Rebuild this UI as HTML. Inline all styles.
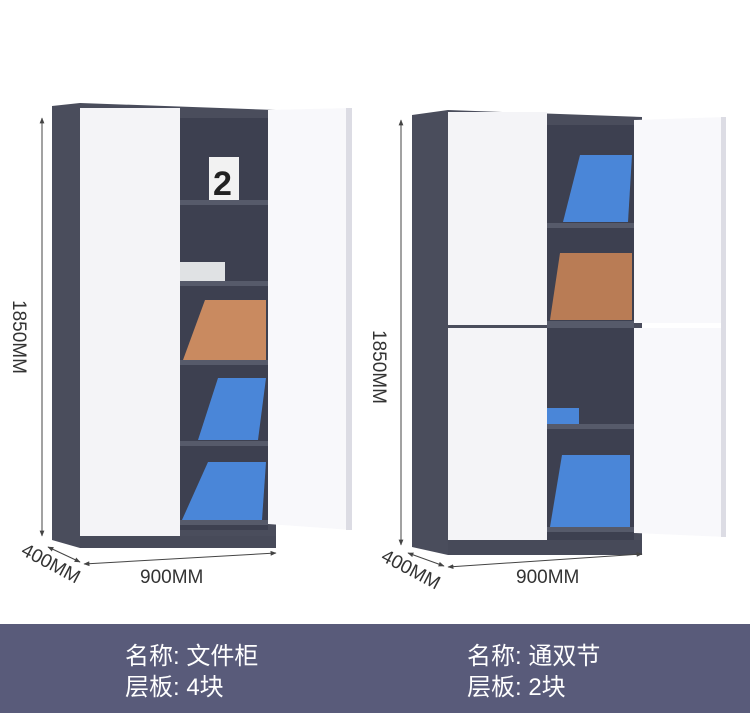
<!DOCTYPE html>
<html><head><meta charset="utf-8"><style>
body{margin:0;width:750px;height:713px;background:#fff;overflow:hidden;font-family:"Liberation Sans","Noto Sans CJK SC",sans-serif}
</style></head><body>
<svg width="750" height="713" viewBox="0 0 750 713" xmlns="http://www.w3.org/2000/svg" style="position:absolute;left:0;top:0">
<defs>
<marker id="a" viewBox="0 0 10 10" refX="9" refY="5" markerWidth="6" markerHeight="6" orient="auto-start-reverse"><path d="M0,1 L10,5 L0,9 z" fill="#444"/></marker>
</defs>
<!-- LEFT CABINET -->
<polygon points="52,106 80,103 276,110 276,548 80,548 52,540" fill="#4a4d5c"/>
<rect x="80" y="108" width="100" height="428" fill="#f4f4f7"/>
<rect x="180" y="118" width="88" height="412" fill="#3d4050"/>
<rect x="180" y="200" width="88" height="5" fill="#565a6a"/>
<rect x="180" y="281" width="88" height="5" fill="#565a6a"/>
<rect x="180" y="360" width="88" height="5" fill="#565a6a"/>
<rect x="180" y="441" width="88" height="5" fill="#565a6a"/>
<rect x="180" y="520" width="88" height="5" fill="#565a6a"/>
<rect x="80" y="536" width="196" height="12" fill="#474a59"/>
<rect x="209" y="157" width="30" height="43" fill="#f2f2f2"/>
<text x="213" y="195" font-size="34" font-weight="bold" fill="#222">2</text>
<rect x="180" y="262" width="45" height="19" fill="#e0e2e4"/>
<polygon points="183,360 205,300 266,300 266,360" fill="#c98a60"/>
<polygon points="198,440 218,378 266,378 258,440" fill="#4a86d8"/>
<polygon points="182,520 208,462 266,462 262,520" fill="#4a86d8"/>
<polygon points="268,110 352,108 352,530 268,524" fill="#f8f8fb"/>
<rect x="346" y="108" width="6" height="422" fill="#dcdce4"/>
<!-- RIGHT CABINET -->
<polygon points="412,115 448,110 642,117 642,555 448,555 412,547" fill="#4a4d5c"/>
<rect x="448" y="112" width="99" height="213" fill="#f4f4f7"/>
<rect x="448" y="328" width="99" height="212" fill="#f4f4f7"/>
<rect x="547" y="125" width="87" height="415" fill="#3d4050"/>
<rect x="547" y="223" width="87" height="5" fill="#565a6a"/>
<rect x="547" y="321" width="87" height="7" fill="#565a6a"/>
<rect x="547" y="424" width="87" height="5" fill="#565a6a"/>
<rect x="547" y="527" width="87" height="5" fill="#565a6a"/>
<rect x="448" y="540" width="194" height="15" fill="#474a59"/>
<polygon points="563,222 580,155 632,155 628,222" fill="#4a86d8"/>
<polygon points="550,320 560,253 632,253 632,320" fill="#b97c55"/>
<rect x="547" y="408" width="32" height="16" fill="#4a86d8"/>
<polygon points="550,527 562,455 630,455 630,527" fill="#4a86d8"/>
<polygon points="634,120 726,117 726,323 634,323" fill="#f8f8fb"/>
<polygon points="634,328 726,328 726,537 634,533" fill="#f8f8fb"/>
<rect x="721" y="117" width="5" height="420" fill="#dcdce4"/>
<!-- dimensions -->
<g stroke="#444" stroke-width="1" fill="none">
<line x1="42" y1="118" x2="42" y2="536" marker-start="url(#a)" marker-end="url(#a)"/>
<line x1="48" y1="547" x2="80" y2="562" marker-start="url(#a)" marker-end="url(#a)"/>
<line x1="84" y1="564" x2="276" y2="553" marker-start="url(#a)" marker-end="url(#a)"/>
<line x1="401" y1="120" x2="401" y2="545" marker-start="url(#a)" marker-end="url(#a)"/>
<line x1="408" y1="553" x2="444" y2="566" marker-start="url(#a)" marker-end="url(#a)"/>
<line x1="448" y1="567" x2="642" y2="554" marker-start="url(#a)" marker-end="url(#a)"/>
</g>
<g font-size="19" fill="#333">
<text transform="translate(13,300) rotate(90)">1850MM</text>
<text transform="translate(373,330) rotate(90)">1850MM</text>
<text transform="translate(20,554) rotate(28)">400MM</text>
<text transform="translate(380,560) rotate(28)">400MM</text>
<text x="140" y="583">900MM</text>
<text x="516" y="583">900MM</text>
</g>
<rect x="0" y="624" width="750" height="89" fill="#595b7a"/>
<g font-size="24" fill="#fff">
<text x="125" y="664">名称: 文件柜</text>
<text x="125" y="695">层板: 4块</text>
<text x="467" y="664">名称: 通双节</text>
<text x="467" y="695">层板: 2块</text>
</g>
</svg>
</body></html>
